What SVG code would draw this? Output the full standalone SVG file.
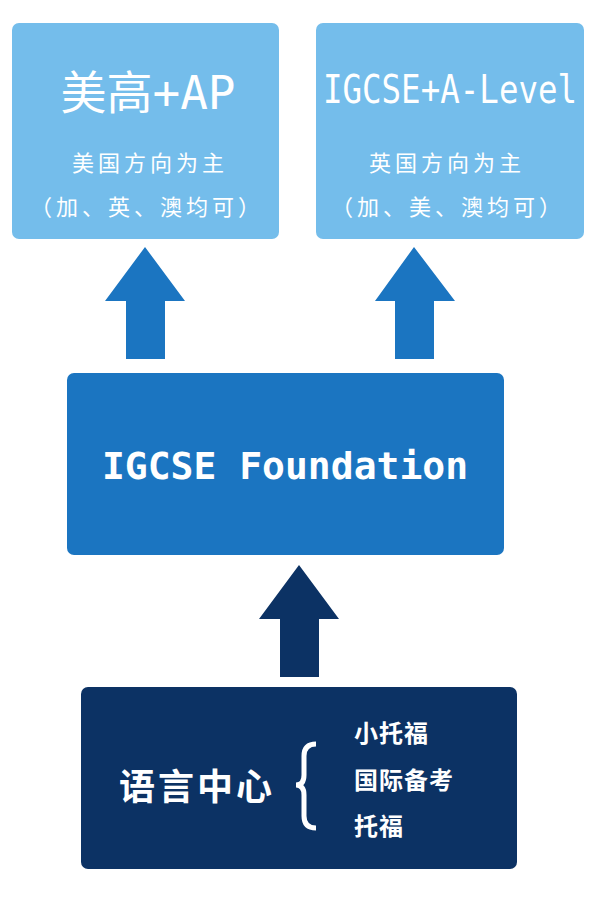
<svg xmlns="http://www.w3.org/2000/svg" width="600" height="900" viewBox="0 0 600 900">
<style>
.light{fill:#74BDEB}
.mid{fill:#1B75C1}
.dark{fill:#0C3264}
.t{fill:#ffffff;text-anchor:middle}
.big{font-family:"DejaVu Sans Mono","Noto Sans CJK SC",monospace}
.sub{font-family:"Noto Sans CJK SC",sans-serif;font-size:22px;letter-spacing:4px}
.found{font-family:"DejaVu Sans Mono",monospace;font-size:38px;font-weight:bold}
.lang{font-family:"Noto Sans CJK SC",sans-serif;font-weight:bold;fill:#ffffff}
</style>
<rect width="600" height="900" fill="#ffffff"/>
<g id="node-us">
<rect class="light" x="12" y="23" width="267" height="216" rx="7"/>
<text class="t big" x="148" y="109" font-size="46">美高+AP</text>
<text class="t sub" x="150" y="171">美国方向为主</text>
<text class="t sub" x="147" y="215">（加、英、澳均可）</text>
</g>
<g id="node-uk">
<rect class="light" x="316" y="23" width="268" height="216" rx="7"/>
<text class="t big" font-size="38" transform="translate(450,103) scale(0.855,1.05)" x="0" y="0">IGCSE+A-Level</text>
<text class="t sub" x="447" y="171">英国方向为主</text>
<text class="t sub" x="448" y="215">（加、美、澳均可）</text>
</g>
<g id="node-foundation">
<rect class="mid" x="67" y="373" width="437" height="182" rx="7"/>
<text class="t found" x="285" y="479">IGCSE Foundation</text>
</g>
<g id="node-language">
<rect class="dark" x="81" y="687" width="436" height="182" rx="7"/>
<text class="lang" x="119" y="800" font-size="36" letter-spacing="3">语言中心</text>
<path d="M316,744 Q304,744 304,756 L304,775 Q304,785 296,785 Q304,785 304,795 L304,816 Q304,828 316,828" fill="none" stroke="#ffffff" stroke-width="5"/>
<text class="lang" x="354" y="742" font-size="24" letter-spacing="1">小托福</text>
<text class="lang" x="354" y="789" font-size="24" letter-spacing="1">国际备考</text>
<text class="lang" x="354" y="835" font-size="24" letter-spacing="1">托福</text>
</g>
<g id="connectors">
<polygon class="mid" points="145,247 185,301 165,301 165,359 126,359 126,301 105,301"/>
<polygon class="mid" points="414,247 455,301 434,301 434,359 395,359 395,301 375,301"/>
<polygon class="dark" points="299,565 339,619 319,619 319,677 280,677 280,619 259,619"/>
</g>
</svg>
